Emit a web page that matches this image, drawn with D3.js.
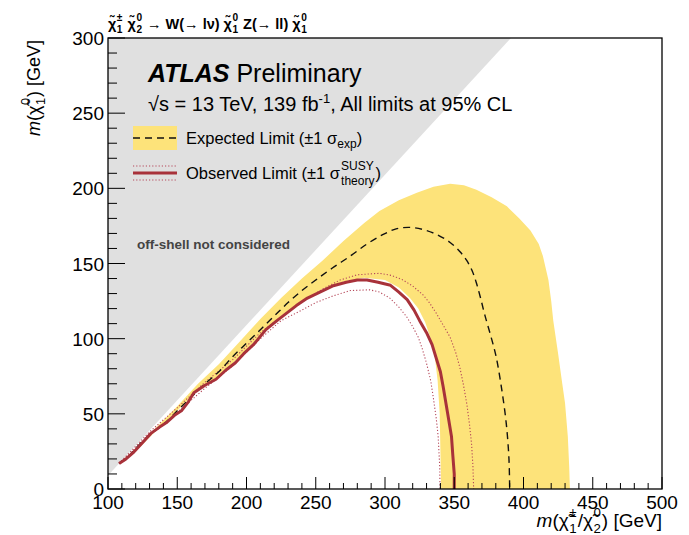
<!DOCTYPE html>
<html><head><meta charset="utf-8">
<script src="https://cdn.jsdelivr.net/npm/d3@7"></script>
<style>body{margin:0;background:#fff}svg{display:block}</style>
</head><body><svg id="c" width="689" height="535"></svg>
<script>
// ---------- data ----------
const xTicks = [100,150,200,250,300,350,400,450,500];
const yTicks = [0,50,100,150,200,250,300];
const xDomain = [100,500];
const yDomain = [0,300];
// kinematic boundary (off-shell region above it)
const offShellEdge = [[100,9],[391,300]];
const expectedLimit = [[108,17],[115,22],[122,29],[130,36],[140,43],[150,52],[160,61],[170,70],[180,78],[190,88],[200,97],[210,106],[220,115],[230,124],[240,132],[250,139],[262,147],[275,155],[287,163],[298,169],[308,173],[318,174],[328,172.5],[338,169],[347,164],[354,158],[359,152],[363,145],[366,137],[369,127],[372,116],[376,103],[380,89],[384,68],[387.5,44],[389.5,20],[390,0]];
const bandUpper = [[108,17],[120,27],[135,41],[150,55],[165,70],[180,83],[195,98],[210,113],[225,127],[240,140],[255,152],[270,165],[285,177],[296,185],[310,192],[323,197],[335,201],[347,203],[357,202],[366,199],[377,194],[388,188],[397,180],[405,172],[411,163],[414,155],[418,139],[420,125],[421.5,112],[425,90],[428,70],[430,57],[432,35],[433,15],[433.5,0]];
const bandLower = [[108,17],[120,25],[135,39],[150,52],[165,66],[180,75],[195,88],[210,102],[225,115],[240,125],[255,133],[270,138],[285,140.5],[300,139],[310,134],[318,127],[324,120],[329,111],[333,100],[336,88],[338,72],[339.5,50],[340,25],[340.5,0]];
const observedLimit = [[108,17],[113,20],[118,24],[122,28],[126,32],[131,37],[137,41],[142,44],[148,49],[153,52],[158,58],[162,64],[170,69],[178,73],[185,79],[192,84],[198,90],[205,96],[214,106],[222,112],[229,117],[236,122],[244,127],[253,131],[262,135],[272,137.5],[280,139],[287,139],[295,137.5],[304,135.5],[310,131],[316,126],[321,119],[325,112],[330,104],[334,96],[337,87],[340,78],[342,68],[344,57],[346,46],[348,35],[349,22],[350,10],[350,0]];
const observedUp = [[108,17],[130,38],[150,54],[170,71],[190,86],[210,104],[236,122],[255,133],[267.5,139],[280,142.5],[296,143.5],[305,142],[313,139],[320,135],[327.6,129],[332,124],[337,117],[342,109],[347,101],[351,91],[354,81],[356.5,70],[359,57],[361,43],[362.5,30],[363.5,15],[364,0]];
const observedDown = [[108,17],[130,36],[150,51],[170,67],[190,82],[210,100],[225,112],[240,119],[250,124],[262.7,128.5],[275,132],[289,132.5],[296,131],[303.5,127],[310,121],[315.6,114.6],[320,108],[324,101],[327,93],[330,83.6],[333,72],[334.8,61.4],[337,47],[338.4,34.8],[339.5,15],[339.7,0]];

// ---------- setup ----------
const FONT = "'Liberation Sans', Arial, Helvetica, sans-serif";
const svg = d3.select("#c").style("font-family", FONT);
const L=108, R=662, T=38, B=489;
const x = d3.scaleLinear().domain(xDomain).range([L,R]);
const y = d3.scaleLinear().domain(yDomain).range([B,T]);
const C = {grey:"#e0e0e0", band:"#fde37a", obs:"#a8323a", dot:"#b5485a"};

svg.append("defs").append("clipPath").attr("id","pa")
  .append("rect").attr("x",L).attr("y",T).attr("width",R-L).attr("height",B-T);
const g = svg.append("g").attr("clip-path","url(#pa)");

const line = d3.line().x(d=>x(d[0])).y(d=>y(d[1]));
// off-shell region
const greyPoly = [[xDomain[0], yDomain[1]], ...offShellEdge, [offShellEdge[1][0], yDomain[1]]];
g.append("path").attr("fill",C.grey).attr("d", line(greyPoly) + "Z");

// band
g.append("path").attr("fill",C.band)
  .attr("d", line(bandUpper.concat(bandLower.slice().reverse())) + "Z");
// observed +-1 sigma
g.append("path").attr("fill","none").attr("stroke",C.dot).attr("stroke-width",1.1)
  .attr("stroke-dasharray","1.2,2").attr("d", line(observedUp));
g.append("path").attr("fill","none").attr("stroke",C.dot).attr("stroke-width",1.1)
  .attr("stroke-dasharray","1.2,2").attr("d", line(observedDown));
// expected
g.append("path").attr("fill","none").attr("stroke","#111").attr("stroke-width",1.4)
  .attr("stroke-dasharray","7,5").attr("d", d3.line().curve(d3.curveCatmullRom).x(d=>x(d[0])).y(d=>y(d[1]))(expectedLimit));
// observed
g.append("path").attr("fill","none").attr("stroke",C.obs).attr("stroke-width",3)
  .attr("stroke-linejoin","round").attr("d", line(observedLimit));

// off-shell text
svg.append("text").attr("x",137).attr("y",249).attr("font-size",13.5).attr("font-weight","bold")
  .attr("fill","#444").text("off-shell not considered");

// ---------- axes ----------
const frame = svg.append("g");
frame.selectAll(".xt").data(d3.range(100,501,10)).join("line")
  .attr("x1",d=>x(d)).attr("x2",d=>x(d)).attr("y1",B)
  .attr("y2",d=> xTicks.includes(d) ? B-12 : B-6)
  .attr("stroke","#000").attr("stroke-width",1);
frame.selectAll(".yt").data(d3.range(0,301,10)).join("line")
  .attr("y1",d=>y(d)).attr("y2",d=>y(d)).attr("x1",L)
  .attr("x2",d=> yTicks.includes(d) ? L+17 : L+9)
  .attr("stroke","#000").attr("stroke-width",1);
frame.append("rect").attr("x",L).attr("y",T).attr("width",R-L).attr("height",B-T)
  .attr("fill","none").attr("stroke","#000").attr("stroke-width",1.3);

svg.selectAll(".xl").data(xTicks).join("text")
  .attr("x",d=>x(d)).attr("y",B+20).attr("text-anchor","middle").attr("font-size",19)
  .text(d=>d);
svg.selectAll(".yl").data(yTicks).join("text")
  .attr("x",L-4).attr("y",d=>y(d)+7).attr("text-anchor","end").attr("font-size",19)
  .text(d=>d);

// ---------- rich text helper ----------
function rich(parent, x0, y0, parts, fs, weight) {
  let cx = x0;
  for (const p of parts) {
    if (p.chi) {
      const t = parent.append("text").attr("x",cx).attr("y",y0).attr("font-size",fs)
        .attr("font-weight",weight||"normal").text("\u03C7\u0303");
      const w = t.node().getComputedTextLength();
      const s1 = parent.append("text").attr("x",cx+w+0.5).attr("y",y0-fs*0.55).attr("font-size",fs*0.7)
        .attr("font-weight",weight||"normal").text(p.sup);
      const s2 = parent.append("text").attr("x",cx+w+0.5).attr("y",y0+fs*0.3).attr("font-size",fs*0.7)
        .attr("font-weight",weight||"normal").text(p.sub);
      cx += w + Math.max(s1.node().getComputedTextLength(), s2.node().getComputedTextLength()) + 1.5;
    } else {
      const t = parent.append("text").attr("x",cx).attr("y",y0).attr("font-size",fs)
        .attr("font-weight",weight||"normal").attr("font-style",p.italic?"italic":"normal")
        .style("white-space","pre").text(p.t);
      cx += t.node().getComputedTextLength();
    }
  }
  return cx;
}

// title
rich(svg.append("g"), 108, 29, [
  {chi:1,sup:"\u00B1",sub:"1"},{t:" "},{chi:1,sup:"0",sub:"2"},{t:" \u2192 W(\u2192 l\u03BD) "},
  {chi:1,sup:"0",sub:"1"},{t:" Z(\u2192 ll) "},{chi:1,sup:"0",sub:"1"}], 14.5, "bold");

// x label (right aligned)
const xg = svg.append("g");
const xEnd = rich(xg, 0, 0, [{t:"m",italic:1},{t:"("},{chi:1,sup:"\u00B1",sub:"1"},{t:"/"},{chi:1,sup:"0",sub:"2"},{t:") [GeV]"}], 19);
xg.attr("transform", `translate(${R - xEnd},527)`);

// y label (rotated, right aligned to top)
const yg = svg.append("g");
const yEnd = rich(yg, 0, 0, [{t:"m",italic:1},{t:"("},{chi:1,sup:"0",sub:"1"},{t:") [GeV]"}], 18);
yg.attr("transform", `translate(40,${T + 2 + yEnd}) rotate(-90)`);

// ATLAS label
const at = svg.append("text").attr("x",148).attr("y",82).attr("font-size",25);
at.append("tspan").attr("font-weight","bold").attr("font-style","italic").text("ATLAS");
at.append("tspan").text(" Preliminary");
const sq = svg.append("text").attr("x",148).attr("y",111).attr("font-size",20);
sq.append("tspan").text("\u221As = 13 TeV, 139 fb");
sq.append("tspan").attr("dy",-8).attr("font-size",13).text("-1");
sq.append("tspan").attr("dy",8).text(", All limits at 95% CL");

// legend
svg.append("rect").attr("x",133).attr("y",126).attr("width",44).attr("height",24).attr("fill",C.band);
svg.append("line").attr("x1",133).attr("x2",177).attr("y1",138).attr("y2",138)
  .attr("stroke","#111").attr("stroke-width",1.4).attr("stroke-dasharray","7,5");
const e1 = svg.append("text").attr("x",186).attr("y",144).attr("font-size",16.5);
e1.append("tspan").text("Expected Limit (\u00B11 \u03C3");
e1.append("tspan").attr("dy",4).attr("font-size",12).text("exp");
e1.append("tspan").attr("dy",-4).text(")");

svg.append("line").attr("x1",133).attr("x2",177).attr("y1",173).attr("y2",173)
  .attr("stroke",C.obs).attr("stroke-width",3);
[166,180].forEach(yy=> svg.append("line").attr("x1",133).attr("x2",177).attr("y1",yy).attr("y2",yy)
  .attr("stroke",C.dot).attr("stroke-width",1.1).attr("stroke-dasharray","1.2,2"));
const e2 = svg.append("text").attr("x",186).attr("y",179).attr("font-size",16.5);
e2.append("tspan").text("Observed Limit (\u00B11 \u03C3");
const sx = 186 + e2.node().getComputedTextLength() + 1;
svg.append("text").attr("x",sx).attr("y",170).attr("font-size",12).text("SUSY");
const tt = svg.append("text").attr("x",sx).attr("y",185).attr("font-size",12).text("theory");
svg.append("text").attr("x",sx + tt.node().getComputedTextLength()+1).attr("y",179).attr("font-size",16.5).text(")");
</script></body></html>
